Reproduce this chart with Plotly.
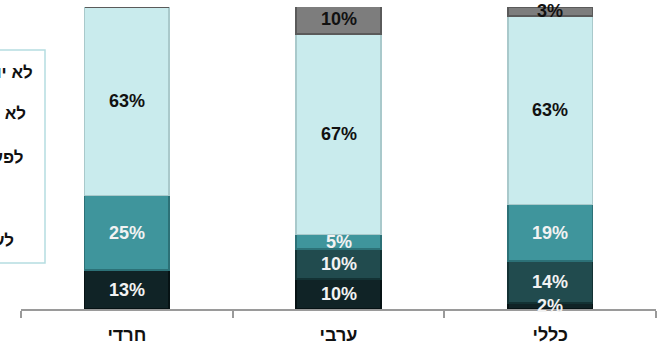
import plotly.graph_objects as go

categories = ["חרדי", "ערבי", "כללי"]
series_names = ["s1", "s2", "s3", "s4", "s5"]
s1 = [13, 10, 2]
s2 = [0, 10, 14]
s3 = [25, 5, 19]
s4 = [63, 67, 63]
s5 = [0, 10, 3]
colors = ["#102326", "#214b4e", "#3f959c", "#c9ebed", "#7d7d7d"]
line_colors = ["#061214", "#133234", "#2c7177", "#a9c9cb", "#5a5a5a"]
text_colors = ["#f2f2f2", "#f2f2f2", "#f2f2f2", "#111111", "#111111"]
legend_texts = ["לא יודע", "לא רלוונטי", "לפעמים", "לעיתים"]
legend_right_px = [35, 28, 25, 16]
legend_y_px = [72, 113, 157, 240]

all_series = [s1, s2, s3, s4, s5]
FONT = "Liberation Sans, Arial, sans-serif"

fig = go.Figure()
for name, vals, c, lc in zip(series_names, all_series, colors, line_colors):
    fig.add_trace(go.Bar(
        x=categories, y=vals, name=name,
        marker=dict(color=c, line=dict(color=lc, width=1.5)),
        cliponaxis=False, showlegend=False, hoverinfo="skip",
    ))

# value labels at the middle of each stacked segment
base = [0, 0, 0]
for vals, tc in zip(all_series, text_colors):
    for i, (cat, v) in enumerate(zip(categories, vals)):
        if v > 0:
            fig.add_annotation(x=cat, y=base[i] + v / 2, xref="x", yref="y",
                               text=f"{v}%", showarrow=False,
                               font=dict(size=18, color=tc, family=FONT, weight="bold"))
        base[i] += v

W, H = 659, 350
L, R, T, B = 21, 3, 7, 41
pw, ph = W - L - R, H - T - B

def px_x(px):
    return (px - L) / pw

def px_y(py):
    return (H - B - py) / ph

fig.add_shape(type="rect", xref="paper", yref="paper",
              x0=px_x(-20), x1=px_x(45), y0=px_y(263), y1=px_y(50),
              line=dict(color="#b5dde1", width=1.5), fillcolor="white", layer="above")

for t, rx, yy in zip(legend_texts, legend_right_px, legend_y_px):
    fig.add_annotation(x=px_x(rx), y=px_y(yy), xref="paper", yref="paper",
                       text=t, showarrow=False, xanchor="right", yanchor="middle",
                       font=dict(size=17, color="#111111", family=FONT, weight="bold"))

fig.update_layout(
    barmode="stack", bargap=0.6,
    width=W, height=H,
    margin=dict(l=L, r=R, t=T, b=B, autoexpand=False),
    paper_bgcolor="white", plot_bgcolor="white",
    xaxis=dict(showline=True, linecolor="#9a9a9a", linewidth=2, automargin=False,
               ticks="outside", tickson="boundaries", ticklen=7, tickcolor="#9a9a9a", tickwidth=2,
               ticklabelstandoff=8,
               tickfont=dict(size=18, color="#111111", family=FONT, weight="bold"),
               showgrid=False),
    yaxis=dict(range=[0, 101], visible=False, showgrid=False, zeroline=False, automargin=False),
)

fig.write_html("out.html", config={"displayModeBar": False, "staticPlot": True},
               post_script="document.body.style.margin='0';document.body.style.overflow='hidden';")
